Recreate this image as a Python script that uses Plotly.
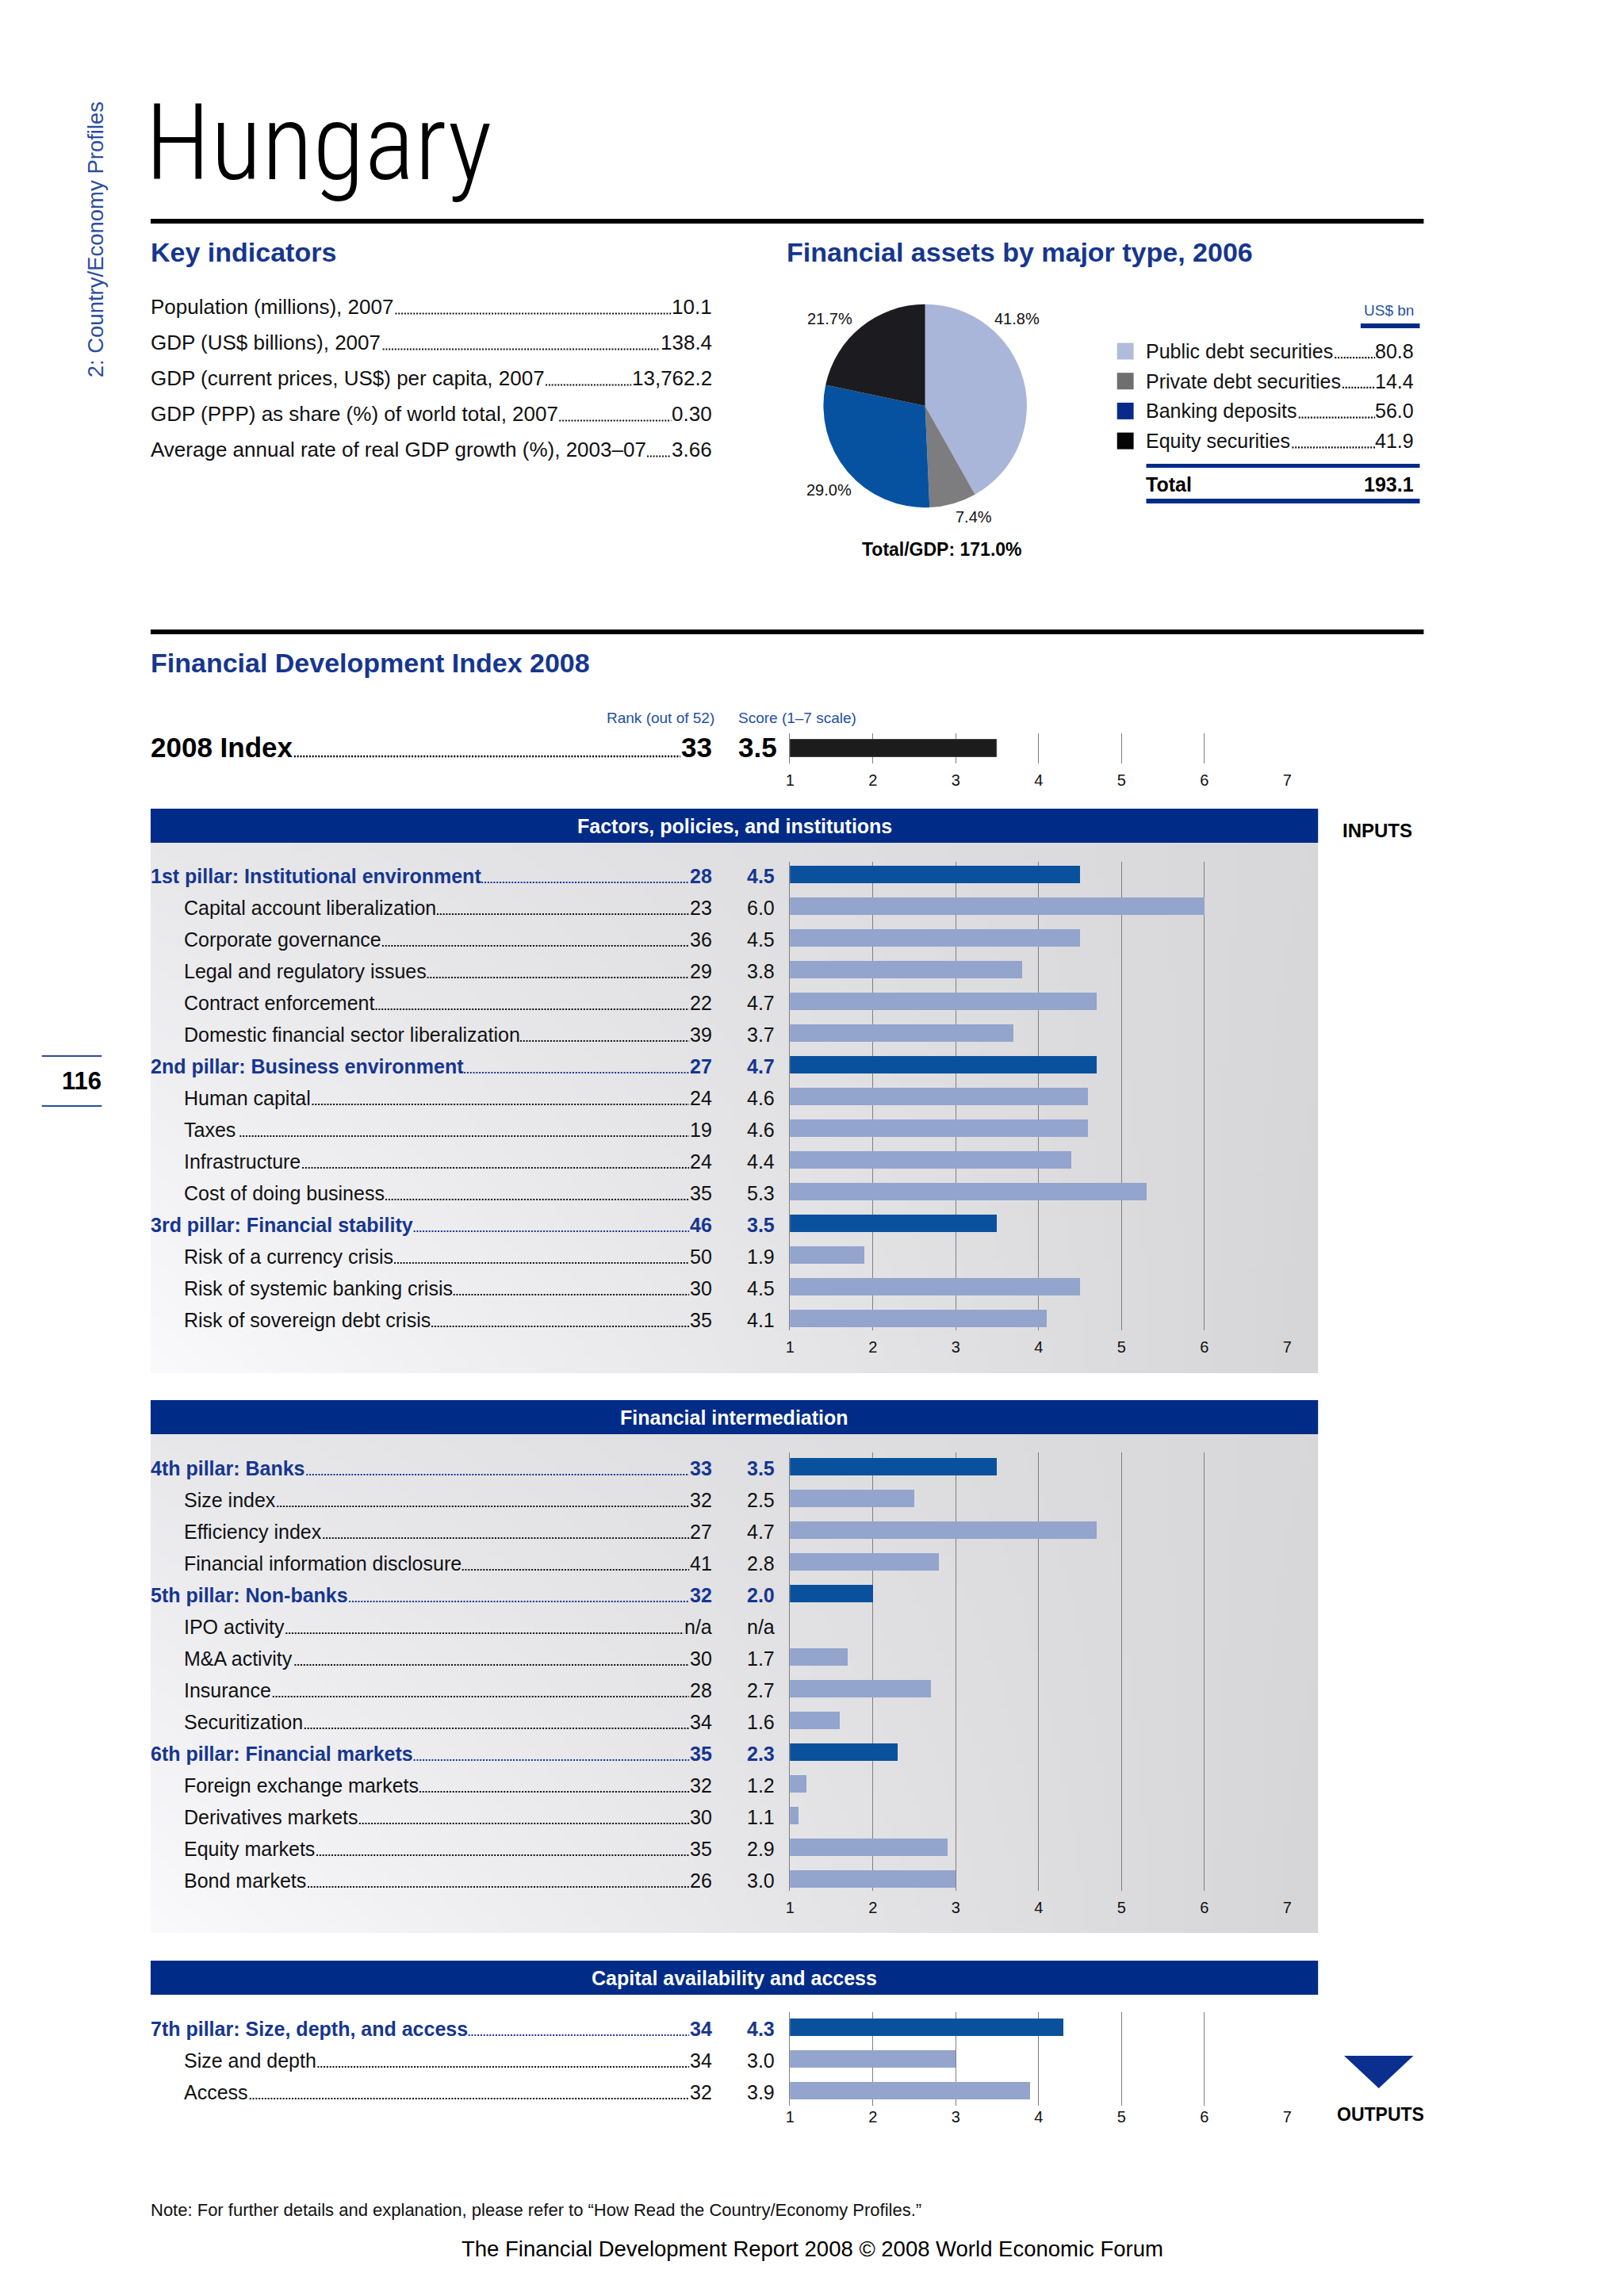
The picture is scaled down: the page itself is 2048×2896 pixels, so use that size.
import base64
import struct
import zlib

import plotly.graph_objects as go

# ---------------------------------------------------------------- data
country = "Hungary"
side_label = "2: Country/Economy Profiles"
page_number = "116"

ki_labels = [
    "Population (millions), 2007",
    "GDP (US$ billions), 2007",
    "GDP (current prices, US$) per capita, 2007",
    "GDP (PPP) as share (%) of world total, 2007",
    "Average annual rate of real GDP growth (%), 2003–07",
]
ki_values = ["10.1", "138.4", "13,762.2", "0.30", "3.66"]

asset_types = ["Public debt securities", "Private debt securities",
               "Banking deposits", "Equity securities"]
asset_values = [80.8, 14.4, 56.0, 41.9]
asset_pct_labels = ["41.8%", "7.4%", "29.0%", "21.7%"]
asset_total = "193.1"
total_gdp = "Total/GDP: 171.0%"

index_label = "2008 Index"
index_rank = "33"
index_score = 3.5

sec1_title = "Factors, policies, and institutions"
sec1_labels = [
    "1st pillar: Institutional environment", "Capital account liberalization",
    "Corporate governance", "Legal and regulatory issues", "Contract enforcement",
    "Domestic financial sector liberalization", "2nd pillar: Business environment",
    "Human capital", "Taxes", "Infrastructure", "Cost of doing business",
    "3rd pillar: Financial stability", "Risk of a currency crisis",
    "Risk of systemic banking crisis", "Risk of sovereign debt crisis",
]
sec1_ranks = ["28", "23", "36", "29", "22", "39", "27", "24", "19", "24", "35",
              "46", "50", "30", "35"]
sec1_scores = [4.5, 6.0, 4.5, 3.8, 4.7, 3.7, 4.7, 4.6, 4.6, 4.4, 5.3, 3.5, 1.9,
               4.5, 4.1]

sec2_title = "Financial intermediation"
sec2_labels = [
    "4th pillar: Banks", "Size index", "Efficiency index",
    "Financial information disclosure", "5th pillar: Non-banks", "IPO activity",
    "M&A activity", "Insurance", "Securitization", "6th pillar: Financial markets",
    "Foreign exchange markets", "Derivatives markets", "Equity markets",
    "Bond markets",
]
sec2_ranks = ["33", "32", "27", "41", "32", "n/a", "30", "28", "34", "35", "32",
              "30", "35", "26"]
sec2_scores = [3.5, 2.5, 4.7, 2.8, 2.0, None, 1.7, 2.7, 1.6, 2.3, 1.2, 1.1, 2.9,
               3.0]

sec3_title = "Capital availability and access"
sec3_labels = ["7th pillar: Size, depth, and access", "Size and depth", "Access"]
sec3_ranks = ["34", "34", "32"]
sec3_scores = [4.3, 3.0, 3.9]

scale_ticks = [1, 2, 3, 4, 5, 6, 7]

# ---------------------------------------------------------------- style
PAGE_W, PAGE_H = 2048, 2896
OFF = 8                       # default body margin of the html page
W, H = PAGE_W - 2 * OFF, PAGE_H - 2 * OFF
BODY = "Liberation Sans, Arial, Helvetica, sans-serif"
TITLE = "Roboto Condensed, Liberation Sans Narrow, Roboto, sans-serif"
HEAD_BLUE = "#16368f"
BAR_NAVY = "#002b87"
SMALL_BLUE = "#2451a3"
PILLAR_BAR = "#0a519d"
SUB_BAR = "#93a4cd"
PIE_COLORS = ["#a9b6d9", "#7d7d80", "#0652a0", "#1c1b20"]
LEG_COLORS = ["#b1bcdc", "#6f6f72", "#0a2a8a", "#050505"]
GRID = "#808080"

REG = dict(zip(" !\"#$%&'()*+,-./0123456789:;<=>?", [278, 278, 355, 556, 556, 889, 667, 191, 333, 333, 389, 584, 278, 333, 278, 278] + [556] * 10 + [278, 278, 584, 584, 584, 556]))
REG.update(dict(zip("ABCDEFGHIJKLMNOPQRSTUVWXYZ", [667, 667, 722, 722, 667, 611, 778, 722, 278, 500, 667, 556, 833, 722, 778, 667, 778, 722, 667, 611, 722, 667, 944, 667, 667, 611])))
REG.update(dict(zip("abcdefghijklmnopqrstuvwxyz", [556, 556, 500, 556, 556, 278, 556, 556, 222, 222, 500, 222, 833, 556, 556, 556, 556, 333, 500, 278, 556, 500, 722, 500, 500, 500])))
REG["–"] = 556
BOLD = dict(zip(" !\"#$%&'()*+,-./0123456789:;<=>?", [278, 333, 474, 556, 556, 889, 722, 238, 333, 333, 389, 584, 278, 333, 278, 278] + [556] * 10 + [333, 333, 584, 584, 584, 611]))
BOLD.update(dict(zip("ABCDEFGHIJKLMNOPQRSTUVWXYZ", [722, 722, 722, 722, 667, 611, 778, 722, 278, 556, 722, 611, 833, 722, 778, 667, 778, 722, 667, 611, 722, 667, 944, 667, 667, 611])))
BOLD.update(dict(zip("abcdefghijklmnopqrstuvwxyz", [556, 611, 556, 611, 556, 333, 611, 611, 278, 278, 556, 278, 889, 611, 611, 611, 611, 389, 556, 333, 611, 556, 778, 556, 556, 500])))
BOLD["–"] = 556


def tw(s, size, bold=False):
    t = BOLD if bold else REG
    return sum(t.get(c, 556) for c in s) * size / 1000.0


def px(x):
    return (x - OFF) / W


def py(y):
    return 1 - (y - OFF) / H


def esc(s):
    return s.replace("&", "&amp;")


annotations = []
shapes = []


def ann(text, x, y, size, color="#111111", bold=False, xanchor="left",
        yanchor="middle", family=BODY, yref="paper", textangle=0, yshift=0,
        weight=None):
    t = esc(text)
    if bold:
        t = "<b>" + t + "</b>"
    font = dict(family=family, size=size, color=color)
    if weight is not None:
        font["weight"] = weight
    annotations.append(dict(
        text=t, x=px(x), y=(py(y) if yref == "paper" else y), xref="paper",
        yref=yref, xanchor=xanchor, yanchor=yanchor, showarrow=False,
        font=font, textangle=textangle,
        yshift=yshift, borderpad=0, borderwidth=0))


def rect(x0, y0, x1, y1, color):
    shapes.append(dict(type="rect", xref="paper", yref="paper", x0=px(x0),
                       x1=px(x1), y0=py(y0), y1=py(y1), fillcolor=color,
                       line=dict(width=0)))


def dots(x0, x1, y, color, yref="paper", width=2.2):
    if x1 <= x0:
        return
    yy = py(y) if yref == "paper" else y
    shapes.append(dict(type="line", xref="paper", yref=yref, x0=px(x0),
                       x1=px(x1), y0=yy, y1=yy,
                       line=dict(color=color, width=width, dash="2px,1.8px")))


def png_uri(w, h, func):
    raw = b""
    for j in range(h):
        row = bytearray([0])
        for i in range(w):
            row.extend(func(i / (w - 1), j / (h - 1)))
        raw += bytes(row)

    def chunk(t, d):
        return (struct.pack(">I", len(d)) + t + d
                + struct.pack(">I", zlib.crc32(t + d) & 0xFFFFFFFF))

    png = (b"\x89PNG\r\n\x1a\n"
           + chunk(b"IHDR", struct.pack(">IIBBBBB", w, h, 8, 2, 0, 0, 0))
           + chunk(b"IDAT", zlib.compress(raw, 9)) + chunk(b"IEND", b""))
    return "data:image/png;base64," + base64.b64encode(png).decode()


def grad(u, v):
    c = 232 * (1 - u) * (1 - v) + 216 * u * (1 - v) + 250 * (1 - u) * v + 214 * u * v
    return (int(c), int(c), min(255, int(c + 3)))


GRAD = png_uri(160, 72, grad)

# ---------------------------------------------------------------- header
ann(country, 178, 180, 134, color="#000000", family=TITLE, weight=300)
ann(side_label, 116, 302, 27.5, color="#2c4d9e", xanchor="center",
    textangle=-90)
ann(page_number, 123, 1363, 31, color="#000000", bold=True, xanchor="right")
for yl in (1332, 1395):
    shapes.append(dict(type="line", xref="paper", yref="paper", x0=px(47),
                       x1=px(123), y0=py(yl), y1=py(yl),
                       line=dict(color="#2c4d9e", width=2)))
rect(185, 276, 1800, 282, "#000000")
rect(185, 794, 1800, 800, "#000000")

ann("Key indicators", 185, 318, 34, color=HEAD_BLUE, bold=True)
ann("Financial assets by major type, 2006", 992, 318, 34, color=HEAD_BLUE,
    bold=True)
ann("Financial Development Index 2008", 185, 836, 34, color=HEAD_BLUE,
    bold=True)

# key indicators
for k, (lab, val) in enumerate(zip(ki_labels, ki_values)):
    yc = 387 + 45 * k
    ann(lab, 185, yc, 26)
    ann(val, 897, yc, 26, xanchor="right")
    dots(185 + tw(lab, 26) + 4, 897 - tw(val, 26) - 1, yc + 8.5, "#111111")

# pie chart + legend
pie = go.Pie(values=asset_values, labels=asset_types, sort=False,
             direction="clockwise", rotation=0, textinfo="none",
             marker=dict(colors=PIE_COLORS, line=dict(width=0)),
             domain=dict(x=[px(1038.5), px(1296.5)], y=[py(641), py(383)]),
             showlegend=False, hoverinfo="skip")
pct_pos = [(1284, 402), (1229, 652), (1046, 618), (1047, 402)]
for lab, (xx, yy) in zip(asset_pct_labels, pct_pos):
    ann(lab, xx, yy, 20, xanchor="center")
ann(total_gdp, 1189, 693, 23, color="#000000", bold=True, xanchor="center")

ann("US$ bn", 1788, 392, 19, color=SMALL_BLUE, xanchor="right")
rect(1720, 408, 1795, 414, BAR_NAVY)
for k, (lab, val) in enumerate(zip(asset_types, asset_values)):
    yc = 443 + 37.7 * k
    rect(1411, yc - 10.5, 1432, yc + 10.5, LEG_COLORS[k])
    vs = f"{val:.1f}"
    ann(lab, 1448, yc, 25)
    ann(vs, 1788, yc, 25, xanchor="right")
    dots(1448 + tw(lab, 25) + 3, 1788 - tw(vs, 25) - 1, yc + 8.2, "#111111")
rect(1448, 585, 1795, 590, BAR_NAVY)
ann("Total", 1448, 611, 25, color="#000000", bold=True)
ann(asset_total, 1788, 611, 25, color="#000000", bold=True, xanchor="right")
rect(1448, 629, 1795, 635, BAR_NAVY)

# index row
ann("Rank (out of 52)", 900, 905, 19, color=SMALL_BLUE, xanchor="right")
ann("Score (1–7 scale)", 930, 905, 19, color=SMALL_BLUE)
ann(index_label, 185, 942, 35, color="#000000", bold=True)
ann(index_rank, 897, 942, 35, color="#000000", bold=True, xanchor="right")
ann(f"{index_score:.1f}", 930, 942, 35, color="#000000", bold=True)
dots(185 + tw(index_label, 35, True) + 3, 897 - tw(index_rank, 35, True) - 1,
     954, "#000000", width=2.5)

# ---------------------------------------------------------------- sections
X0, X7 = 996, 1627
rect(185, 1020, 1666, 1063, BAR_NAVY)
rect(185, 1766, 1666, 1809, BAR_NAVY)
rect(185, 2473, 1666, 2516, BAR_NAVY)
for title, yc in ((sec1_title, 1041.5), (sec2_title, 1787.5),
                  (sec3_title, 2494.5)):
    ann(title, 925.5, yc, 25, color="#ffffff", bold=True, xanchor="center")

images = []
for (y0, y1) in ((1063, 1732), (1809, 2438)):
    images.append(dict(source=GRAD, xref="paper", yref="paper", x=px(185),
                       y=py(y0), sizex=px(1666) - px(185),
                       sizey=py(y0) - py(y1), sizing="stretch",
                       xanchor="left", yanchor="top", layer="below"))

ann("INPUTS", 1697, 1047, 24, color="#000000", bold=True)
ann("OUTPUTS", 1745, 2667, 23, color="#000000", bold=True, xanchor="center")
shapes.append(dict(type="path", xref="paper", yref="paper",
                   path=f"M {px(1699)},{py(2593)} L {px(1787)},{py(2593)} "
                        f"L {px(1743)},{py(2634)} Z",
                   fillcolor="#0b2f8f", line=dict(width=0)))

traces = [pie]
traces.append(go.Bar(x=[index_score], y=[0], orientation="h", width=0.58,
                     marker=dict(color="#1c1c1c", line=dict(color="#444444", width=1)),
                     xaxis="x", yaxis="y", showlegend=False, hoverinfo="skip"))

# labels, ranks, scores, axis id, grid top, grid bottom, first row centre, tick gap
sections = [
    (sec1_labels, sec1_ranks, sec1_scores, "2", 1087, 1678, 1103, 3),
    (sec2_labels, sec2_ranks, sec2_scores, "3", 1832, 2385, 1850, 3),
    (sec3_labels, sec3_ranks, sec3_scores, "4", 2538, 2656, 2557, 0),
]

layout_axes = {}


def xaxis_def(anchor, tl=3):
    d = dict(domain=[px(X0), px(X7)], anchor=anchor, range=[0.9995, 7.0005],
             showgrid=True, gridcolor=GRID, gridwidth=1.4, zeroline=False,
             tickmode="array", tickvals=scale_ticks,
             ticktext=[str(t) for t in scale_ticks],
             tickfont=dict(family=BODY, size=20, color="#111111"),
             showline=False, fixedrange=True)
    if tl > 0:
        d.update(ticks="outside", ticklen=tl, tickcolor="rgba(0,0,0,0)")
    else:
        d.update(ticks="")
    return d


def yaxis_def(anchor, dom, rng):
    return dict(domain=dom, anchor=anchor, range=rng, showgrid=False,
                zeroline=False, showticklabels=False, showline=True,
                linecolor=GRID, linewidth=1.4, fixedrange=True)


layout_axes["xaxis"] = xaxis_def("y")
layout_axes["yaxis"] = yaxis_def("x", [py(963), py(925)], [0.5, -0.5])

for labels, ranks, scores, ax, top, bot, first, tl in sections:
    n = len(labels)
    rtop = (top - first) / 40.0
    rbot = (n - 1) + (bot - (first + 40 * (n - 1))) / 40.0
    layout_axes["xaxis" + ax] = xaxis_def("y" + ax, tl)
    layout_axes["yaxis" + ax] = yaxis_def("x" + ax, [py(bot), py(top)],
                                          [rbot, rtop])
    pillar = [("pillar:" in lab) for lab in labels]
    traces.append(go.Bar(
        x=scores, y=list(range(n)), orientation="h", width=0.55,
        marker=dict(color=[PILLAR_BAR if p else SUB_BAR for p in pillar],
                    line=dict(width=0)),
        xaxis="x" + ax, yaxis="y" + ax, showlegend=False, hoverinfo="skip"))
    yref = "y" + ax
    for i, (lab, rk, sc, p) in enumerate(zip(labels, ranks, scores, pillar)):
        col = HEAD_BLUE if p else "#111111"
        xl = 185 if p else 227
        stxt = "n/a" if sc is None else f"{sc:.1f}"
        ann(lab, xl, i, 25, color=col, bold=p, yref=yref, yshift=-2)
        ann(rk, 897, i, 25, color=col, bold=p, xanchor="right", yref=yref,
            yshift=-2)
        ann(stxt, 942, i, 25, color=col, bold=p, yref=yref, yshift=-2)
        dots(xl + tw(lab, 25, p) + 3, 897 - tw(rk, 25, p) - 1, i + 0.25,
             HEAD_BLUE if p else "#111111", yref=yref)

# footer
ann("Note: For further details and explanation, please refer to “How Read the Country/Economy Profiles.”",
    185, 2787, 22)
ann("The Financial Development Report 2008 © 2008 World Economic Forum",
    1025, 2836, 27.5, color="#000000", xanchor="center")

fig = go.Figure(data=traces)
fig.update_layout(
    width=W, height=H, margin=dict(l=0, r=0, t=0, b=0, pad=0),
    paper_bgcolor="#ffffff", plot_bgcolor="rgba(0,0,0,0)",
    showlegend=False, bargap=0, annotations=annotations, shapes=shapes,
    images=images, hovermode=False, **layout_axes)
fig.write_html("out.html")
